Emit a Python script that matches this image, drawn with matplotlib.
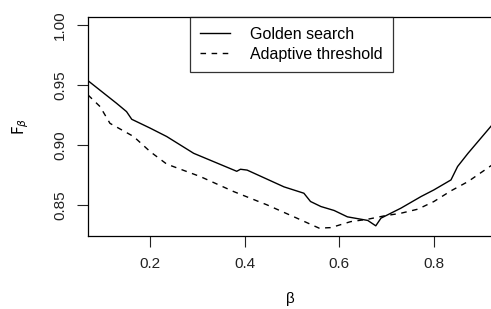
import matplotlib
matplotlib.use("Agg")
import matplotlib.pyplot as plt

# 数据：近似值
beta_golden = [0.0685, 0.129, 0.150, 0.161, 0.200, 0.235, 0.292, 0.377, 0.383, 0.391, 0.405,
               0.483, 0.525, 0.539, 0.561, 0.589, 0.617, 0.660, 0.677, 0.688, 0.730, 0.773,
               0.800, 0.836, 0.850, 0.872, 0.923]
f_golden = [0.9536, 0.9347, 0.9278, 0.9214, 0.914, 0.907, 0.893, 0.879, 0.878, 0.8797, 0.879,
            0.865, 0.8597, 0.8528, 0.8486, 0.8453, 0.840, 0.837, 0.8325, 0.8389, 0.8472, 0.857,
            0.8625, 0.8708, 0.882, 0.893, 0.9167]

beta_adaptive = [0.0685, 0.094, 0.115, 0.165, 0.200, 0.235, 0.306, 0.377, 0.447, 0.504, 0.557,
                 0.582, 0.624, 0.660, 0.695, 0.730, 0.766, 0.800, 0.836, 0.872, 0.923]
f_adaptive = [0.9417, 0.932, 0.918, 0.907, 0.8944, 0.884, 0.8736, 0.861, 0.850, 0.840, 0.8306,
              0.831, 0.836, 0.838, 0.8408, 0.843, 0.8464, 0.8528, 0.8617, 0.8694, 0.8833]

x_ticks = [0.2, 0.4, 0.6, 0.8]
y_ticks = [0.85, 0.90, 0.95, 1.00]

plt.rcParams["font.family"] = ["Liberation Sans", "DejaVu Sans"]

fig = plt.figure(figsize=(4.91, 3.09), dpi=100)
ax = fig.add_axes([0.1792, 0.2362, 0.825, 0.7098])

ax.plot(beta_golden, f_golden, color="black", linewidth=1.0, label="Golden search")
ax.plot(beta_adaptive, f_adaptive, color="black", linewidth=1.0, linestyle=(0, (4, 4)),
        label="Adaptive threshold")

ax.set_xlim(0.0685, 0.925)
ax.set_ylim(0.824, 1.007)
ax.set_xticks(x_ticks)
ax.set_xticklabels(["%.1f" % v for v in x_ticks])
ax.set_yticks(y_ticks)
ax.set_yticklabels(["%.2f" % v for v in y_ticks], rotation=90, va="center")
ax.tick_params(direction="out", length=8, width=0.8, labelsize=11, pad=7, colors="#222222")
for s in ax.spines.values():
    s.set_linewidth(0.9)

ax.set_xlabel("β", fontsize=11, labelpad=15)
ax.set_ylabel(r"$\mathrm{F}_\beta$", fontsize=11, labelpad=16)

leg = ax.legend(loc="upper left", bbox_to_anchor=(0.251, 1.0), borderaxespad=0,
                fancybox=False, edgecolor="black", fontsize=11.5, handlelength=1.9,
                handletextpad=1.2, borderpad=0.65, labelspacing=0.3)
leg.get_frame().set_linewidth(0.9)

fig.savefig("out.png", dpi=100)
